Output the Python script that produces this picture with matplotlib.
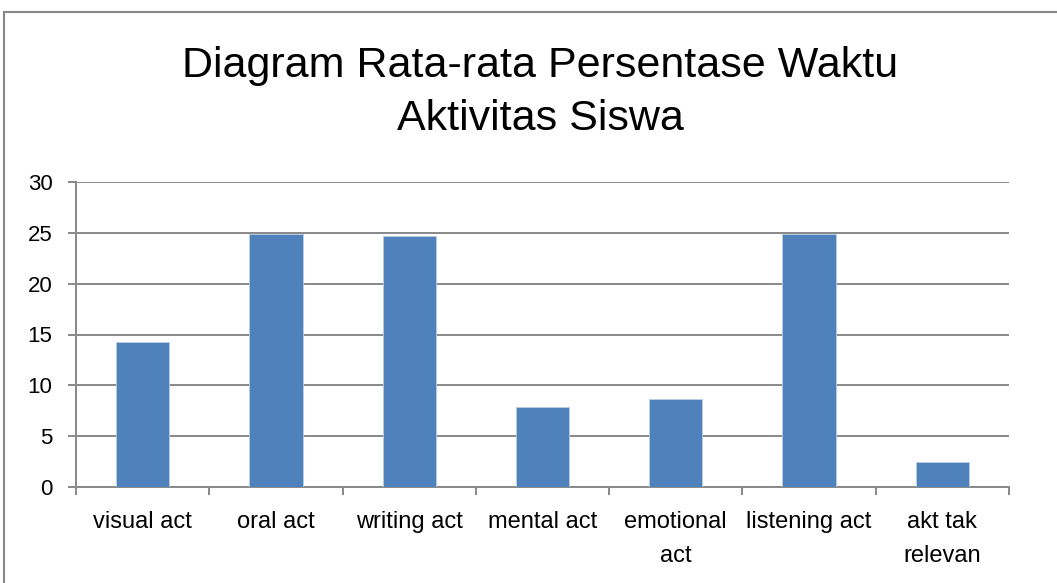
""" Bar chart: rata-rata persentase waktu aktivitas siswa
"""
import matplotlib
matplotlib.use('Agg')
import matplotlib.pyplot as plt
from matplotlib.patches import Rectangle
import numpy as np

# data
categories = ['visual act', 'oral act', 'writing act', 'mental act',
              'emotional\nact', 'listening act', 'akt tak\nrelevan']
values = [14.3, 24.9, 24.7, 7.9, 8.7, 24.9, 2.5]
yticks = [0, 5, 10, 15, 20, 25, 30]
title_lines = ['Diagram Rata-rata Persentase Waktu', 'Aktivitas Siswa']

# fig params
plt.rcParams['font.family'] = ['Liberation Sans', 'DejaVu Sans']
bar_color = '#4f81bd'
grid_color = '#888888'
fsize_ytick = 16
fsize_xtick = 17
fsize_title = 31

fig = plt.figure(figsize=(10.57, 5.83), dpi=100)
# outer chart frame
fig.patches.append(Rectangle((4 / 1057, -0.1), 1.2, 1 - 12 / 583 + 0.1,
                             transform=fig.transFigure, fill=False,
                             edgecolor=grid_color, linewidth=1.5))
ax = fig.add_axes([76 / 1057, 1 - 487 / 583, (1009 - 76) / 1057, (487 - 182) / 583])

x = np.arange(len(categories))
ax.bar(x, values, width=0.4, color=bar_color, edgecolor='#b9cde5', linewidth=0.6, zorder=3)

ax.set_xlim(-0.5, len(categories) - 0.5)
ax.set_ylim(0, 30)
ax.set_yticks(yticks)
ax.set_yticklabels([str(v) for v in yticks], fontsize=fsize_ytick)
ax.yaxis.grid(True, color=grid_color, linewidth=1.4, zorder=0)
ax.tick_params(axis='y', length=6, color=grid_color, width=1.4, pad=11)

# x ticks at category boundaries, labels at centres
ax.set_xticks(np.arange(len(categories) + 1) - 0.5)
ax.set_xticklabels([])
ax.set_xticks(x, minor=True)
ax.set_xticklabels(categories, minor=True, fontsize=fsize_xtick, linespacing=1.75)
ax.tick_params(axis='x', which='major', length=6, color=grid_color, width=1.4)
ax.tick_params(axis='x', which='minor', length=0, pad=17)

for side in ['top', 'right']:
    ax.spines[side].set_visible(False)
for side in ['left', 'bottom']:
    ax.spines[side].set_color(grid_color)
    ax.spines[side].set_linewidth(1.4)

# title, one line at a time so the baselines sit where they should
for line, base in zip(title_lines, [77, 130]):
    fig.text(0.511, 1 - base / 583, line, ha='center', va='baseline',
             fontsize=fsize_title)

fig.savefig('out.png', dpi=100)
